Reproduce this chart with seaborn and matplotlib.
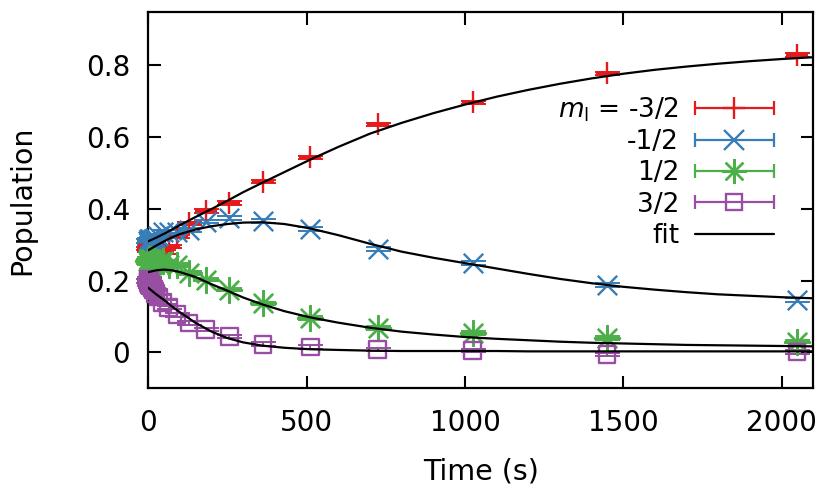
import matplotlib
matplotlib.use("Agg")
import matplotlib.pyplot as plt
from matplotlib.lines import Line2D
from matplotlib.legend_handler import HandlerBase
from matplotlib.ticker import FuncFormatter
import pandas as pd
import seaborn as sns

# measured populations (time in s)
times = [0, 1, 1.4, 2, 2.8, 4, 5.7, 8, 11.3, 16, 22.6, 32, 45, 64, 90.5,
         128, 181, 256, 362, 512, 724, 1024, 1448, 2048]
pop_m32 = [0.29, 0.30, 0.285, 0.295, 0.29, 0.30, 0.285, 0.29, 0.295, 0.29, 0.285, 0.29,
           0.28, 0.295, 0.323, 0.36, 0.394, 0.417, 0.476, 0.544, 0.636, 0.697, 0.778, 0.83]
pop_m12 = [0.31, 0.30, 0.315, 0.305, 0.31, 0.30, 0.315, 0.31, 0.305, 0.315, 0.32, 0.325,
           0.335, 0.337, 0.337, 0.342, 0.365, 0.374, 0.367, 0.344, 0.288, 0.249, 0.188, 0.147]
pop_p12 = [0.255, 0.26, 0.25, 0.255, 0.26, 0.25, 0.255, 0.26, 0.255, 0.25, 0.255, 0.25,
           0.254, 0.245, 0.244, 0.221, 0.203, 0.175, 0.137, 0.096, 0.068, 0.054, 0.04, 0.03]
pop_p32 = [0.20, 0.205, 0.195, 0.20, 0.19, 0.195, 0.185, 0.19, 0.18, 0.175, 0.165, 0.155,
           0.14, 0.125, 0.105, 0.082, 0.064, 0.045, 0.023, 0.015, 0.008, 0.005, -0.006, 0.001]
err_pop = 0.005

# fitted curves
fit_t = [0, 25, 50, 75, 100, 150, 200, 250, 300, 360, 430, 510, 600, 700, 800, 900,
         1000, 1100, 1200, 1300, 1400, 1500, 1600, 1700, 1800, 1900, 2000, 2100]
fit_m32 = [0.31, 0.32, 0.331, 0.343, 0.355, 0.378, 0.40, 0.423, 0.447, 0.473, 0.503,
           0.537, 0.573, 0.61, 0.64, 0.667, 0.691, 0.713, 0.732, 0.749, 0.764, 0.777,
           0.788, 0.797, 0.805, 0.812, 0.818, 0.823]
fit_m12 = [0.285, 0.298, 0.31, 0.321, 0.33, 0.343, 0.352, 0.358, 0.362, 0.363, 0.358,
           0.346, 0.327, 0.303, 0.281, 0.264, 0.249, 0.234, 0.219, 0.205, 0.193, 0.183,
           0.175, 0.168, 0.162, 0.158, 0.154, 0.151]
fit_p12 = [0.224, 0.229, 0.231, 0.229, 0.224, 0.21, 0.19, 0.172, 0.153, 0.134, 0.115,
           0.098, 0.083, 0.069, 0.058, 0.05, 0.043, 0.038, 0.034, 0.03, 0.027, 0.025,
           0.023, 0.021, 0.02, 0.019, 0.018, 0.017]
fit_p32 = [0.18, 0.162, 0.146, 0.128, 0.112, 0.082, 0.058, 0.04, 0.028, 0.019, 0.013,
           0.009, 0.007, 0.005, 0.004, 0.004, 0.004, 0.004, 0.003, 0.003, 0.003, 0.003,
           0.003, 0.003, 0.003, 0.003, 0.003, 0.003]

labels = [r"$m_\mathrm{l}$ = -3/2", "-1/2", "1/2", "3/2"]

sns.set_style("ticks")
plt.rcParams["font.family"] = ["DejaVu Sans"]
plt.rcParams["mathtext.fontset"] = "dejavusans"
for key in ["text.color", "axes.labelcolor", "xtick.color", "ytick.color"]:
    plt.rcParams[key] = "black"

colors = sns.color_palette("Set1", 4)
markers = ["+", "x", (8, 2, 0), "s"]
msizes = [16, 14, 18, 12]

fig = plt.figure(figsize=(8.31, 4.99), dpi=100)
ax = fig.add_axes([0.1785, 0.2218, 0.8002, 0.7548])

series = [pop_m32, pop_m12, pop_p12, pop_p32]
fits = [fit_m32, fit_m12, fit_p12, fit_p32]

for fy in fits:
    df = pd.DataFrame({"t": fit_t, "p": fy})
    sns.lineplot(data=df, x="t", y="p", color="black", lw=1.6, ax=ax,
                 estimator=None, zorder=5)

handles = []
for ys, c, m, ms, lab in zip(series, colors, markers, msizes, labels):
    eb = ax.errorbar(times, ys, yerr=err_pop, fmt="none", ecolor=c, elinewidth=1.4,
                     capsize=9, capthick=1.4, zorder=3, clip_on=False)
    for art in eb.lines[1] + eb.lines[2]:
        art.set_clip_on(False)
    sns.scatterplot(x=times, y=ys, marker=m, s=ms ** 2, color=c, ax=ax, zorder=4,
                    linewidth=1.7, clip_on=False,
                    facecolor="none" if m == "s" else c, edgecolor=c)
    handles.append(Line2D([], [], color=c, marker=m, markersize=ms,
                          mfc="none", mec=c, mew=1.7, label=lab))
handles.append(Line2D([], [], color="black", lw=1.6, label="fit"))


class GnuKey(HandlerBase):
    def create_artists(self, legend, orig, xd, yd, w, h, fontsize, trans):
        y = h / 2 - yd
        x0, x1 = -xd, -xd + w
        c = orig.get_color()
        arts = [Line2D([x0, x1], [y, y], color=c, lw=1.6)]
        if orig.get_marker() not in (None, "None", ""):
            arts.append(Line2D([x0, x1], [y, y], ls="none", marker="|",
                               markersize=10, mew=1.6, color=c))
            arts.append(Line2D([(x0 + x1) / 2], [y], ls="none",
                               marker=orig.get_marker(), markersize=orig.get_markersize(),
                               mfc="none", mec=c, mew=1.7))
        for a in arts:
            a.set_transform(trans)
        return arts


leg = ax.legend(handles=handles, handler_map={Line2D: GnuKey()}, loc="upper right",
                bbox_to_anchor=(0.941, 0.778), frameon=False, markerfirst=False,
                fontsize=19, handlelength=3.0, handletextpad=0.6, labelspacing=0.2,
                borderpad=0, borderaxespad=0)
for col in leg._legend_handle_box.get_children():
    col.align = "right"

ax.set_xlim(0, 2100)
ax.set_ylim(-0.1, 0.95)
ax.set_xticks([0, 500, 1000, 1500, 2000])
ax.set_yticks([0, 0.2, 0.4, 0.6, 0.8])
ax.yaxis.set_major_formatter(FuncFormatter(lambda v, p: "%g" % round(v, 2)))
ax.tick_params(direction="in", length=9, width=1.5, top=True, right=True,
               labelsize=20, color="black")
ax.tick_params(axis="x", pad=15)
ax.tick_params(axis="y", pad=13)
for s in ax.spines.values():
    s.set_visible(True)
    s.set_linewidth(1.6)
    s.set_color("black")
ax.set_xlabel("Time (s)", fontsize=20.5, labelpad=15)
ax.set_ylabel("Population", fontsize=20.5, labelpad=36)

fig.savefig("out.png", dpi=100)
